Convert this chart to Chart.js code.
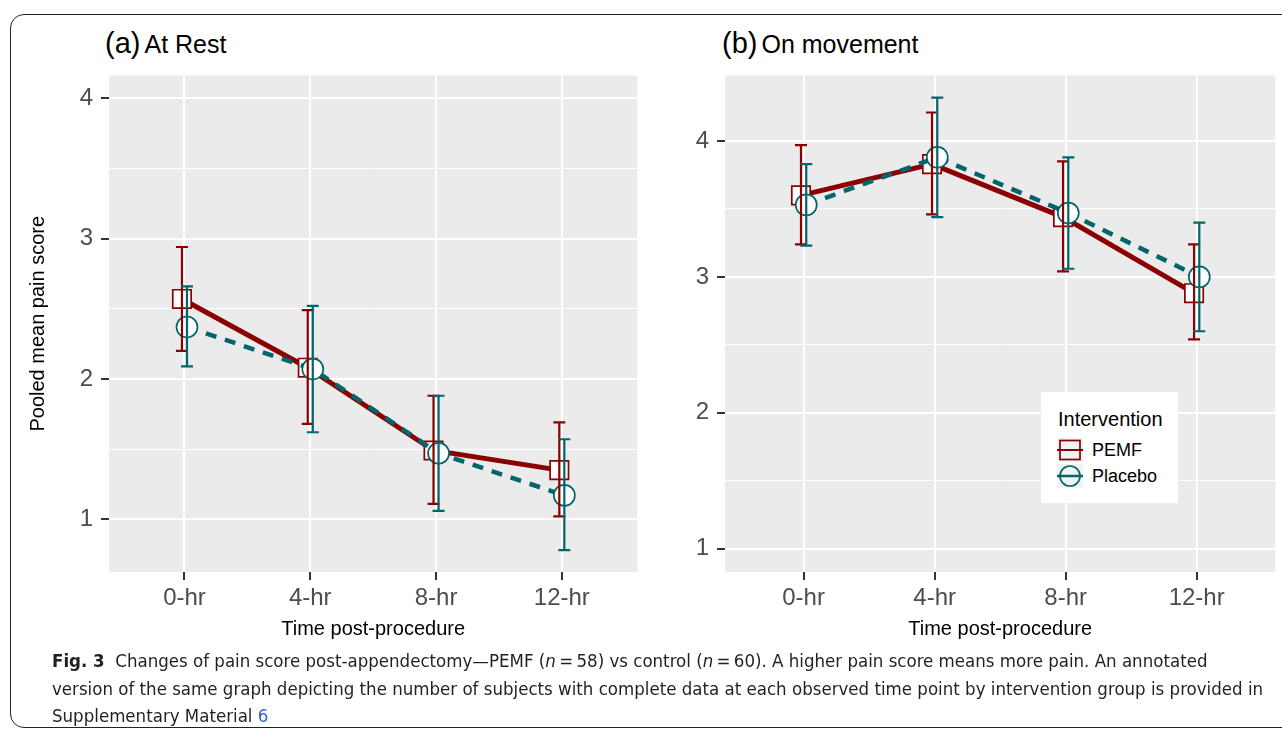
<!DOCTYPE html>
<html>
<head>
<meta charset="utf-8">
<script src="https://cdn.jsdelivr.net/npm/chart.js@4.4.0/dist/chart.umd.min.js"></script>
<style>
  html, body { margin: 0; padding: 0; background: #fff; overflow: hidden; }
  body { width: 1282px; height: 732px; position: relative; font-family: 'Liberation Sans', Arial, sans-serif; }
  #frame { position: absolute; left: 10px; top: 14px; width: 1320px; height: 714px; border: 1.3px solid #222; border-radius: 14px; box-sizing: border-box; }
  canvas { position: absolute; }
  .ptitle { position: absolute; top: 25px; white-space: nowrap; color: #000; line-height: 36px; }
  .ptitle .tag { font-size: 29px; }
  .ptitle .txt { font-size: 25px; margin-left: 4px; }
  #legend { position: absolute; left: 1041px; top: 392px; width: 137px; height: 111px; background: #fff; }
  #legend .lt { position: absolute; left: 17px; top: 15px; font-size: 20px; line-height: 24px; }
  #legend .item { position: absolute; left: 16px; height: 24px; }
  #legend .item svg { position: absolute; left: 0; top: 0; }
  #legend .item span { position: absolute; left: 35px; top: 1px; font-size: 18px; line-height: 22px; white-space: nowrap; }
  #caption { position: absolute; left: 52px; top: 647px; transform-origin: left top; color: #231f20;
             font-family: 'Liberation Sans Narrow', 'DejaVu Sans Condensed', 'Liberation Sans', sans-serif; font-size: 18px; }
  #caption .cl { white-space: nowrap; line-height: 27.5px; }
</style>
</head>
<body>
<div id="frame"></div>

<div class="ptitle" style="left:105px"><span class="tag">(a)</span><span class="txt">At Rest</span></div>
<div class="ptitle" style="left:722px"><span class="tag">(b)</span><span class="txt">On movement</span></div>

<canvas id="restChart" width="652" height="600" style="left:0px; top:53px"></canvas>
<canvas id="moveChart" width="640" height="600" style="left:650px; top:53px"></canvas>

<div id="legend">
  <div class="lt">Intervention</div>
  <div class="item" style="top:46px">
    <svg width="26" height="24"><rect x="0" y="0" width="26" height="24" fill="#f2f2f2"/><line x1="0" y1="12" x2="26" y2="12" stroke="#8b0000" stroke-width="2"/><rect x="3" y="2.5" width="20" height="19" fill="none" stroke="#8b0000" stroke-width="1.7"/></svg>
    <span>PEMF</span>
  </div>
  <div class="item" style="top:72px">
    <svg width="26" height="24"><rect x="0" y="0" width="26" height="24" fill="#f2f2f2"/><line x1="0" y1="12" x2="26" y2="12" stroke="#00666b" stroke-width="2.5"/><circle cx="13" cy="12" r="10" fill="none" stroke="#00666b" stroke-width="1.7"/></svg>
    <span>Placebo</span>
  </div>
</div>

<div id="caption">
  <div class="cl"><b>Fig. 3</b>&nbsp; Changes of pain score post-appendectomy—PEMF (<i>n</i>&#8201;=&#8201;58) vs control (<i>n</i>&#8201;=&#8201;60). A higher pain score means more pain. An annotated</div>
  <div class="cl" id="capLine2">version of the same graph depicting the number of subjects with complete data at each observed time point by intervention group is provided in</div>
  <div class="cl">Supplementary Material <span style="color:#2f5fd0">6</span></div>
</div>

<script>
// categories and tick labels
const categories = ['0-hr', '4-hr', '8-hr', '12-hr'];
const yTicks = [1, 2, 3, 4];
const yMinor = [1.5, 2.5, 3.5];

// (a) At Rest
const restPemf      = [2.57, 2.08, 1.49, 1.35];
const restPemfLo    = [2.20, 1.68, 1.11, 1.02];
const restPemfHi    = [2.94, 2.49, 1.88, 1.69];
const restPlacebo   = [2.37, 2.07, 1.47, 1.17];
const restPlaceboLo = [2.09, 1.62, 1.06, 0.78];
const restPlaceboHi = [2.66, 2.52, 1.88, 1.57];

// (b) On movement
const movePemf      = [3.60, 3.83, 3.44, 2.88];
const movePemfLo    = [3.24, 3.46, 3.04, 2.54];
const movePemfHi    = [3.97, 4.21, 3.85, 3.24];
const movePlacebo   = [3.53, 3.88, 3.47, 3.00];
const movePlaceboLo = [3.23, 3.44, 3.06, 2.60];
const movePlaceboHi = [3.83, 4.32, 3.88, 3.40];

const RED = '#8b0000';
const TEAL = '#00666b';
const DODGE = 0.02;

function pts(vals, shift) {
    return vals.map((v, i) => ({ x: i + shift, y: v }));
}

// grey panel background
const panelBg = {
    id: 'panelBg',
    beforeDraw(chart) {
        const a = chart.chartArea;
        const c = chart.ctx;
        c.save();
        c.fillStyle = '#ebebeb';
        c.fillRect(a.left, a.top, a.right - a.left, a.bottom - a.top);
        c.restore();
    }
};

// error bars drawn from dataset lo/hi through the scales
const errorBars = {
    id: 'errorBars',
    afterDatasetsDraw(chart) {
        const c = chart.ctx;
        const xs = chart.scales.x, ys = chart.scales.y;
        chart.data.datasets.forEach(ds => {
            c.save();
            c.strokeStyle = ds.borderColor;
            c.lineWidth = 2.2;
            ds.data.forEach((p, i) => {
                const x = xs.getPixelForValue(p.x);
                const y1 = ys.getPixelForValue(ds.errLo[i]);
                const y2 = ys.getPixelForValue(ds.errHi[i]);
                c.beginPath();
                c.moveTo(x, y1); c.lineTo(x, y2);
                c.moveTo(x - 6, y1); c.lineTo(x + 6, y1);
                c.moveTo(x - 6, y2); c.lineTo(x + 6, y2);
                c.stroke();
            });
            c.restore();
        });
    }
};

function isMajor(ctx) {
    return ctx.tick && yTicks.includes(ctx.tick.value);
}

function makeChart(id, opts) {
    const ctx = document.getElementById(id).getContext('2d');
    return new Chart(ctx, {
        type: 'line',
        data: {
            datasets: [
                {
                    label: 'PEMF',
                    data: pts(opts.pemf, -DODGE),
                    errLo: opts.pemfLo, errHi: opts.pemfHi,
                    borderColor: RED, borderWidth: 5,
                    pointStyle: 'rect', pointRadius: 13, pointBorderWidth: 1.7,
                    pointBackgroundColor: '#fff', pointBorderColor: RED,
                    tension: 0, order: 2
                },
                {
                    label: 'Placebo',
                    data: pts(opts.placebo, DODGE),
                    errLo: opts.placeboLo, errHi: opts.placeboHi,
                    borderColor: TEAL, borderWidth: 4.5, borderDash: [11, 9],
                    pointStyle: 'circle', pointRadius: 10.5, pointBorderWidth: 1.7,
                    pointBackgroundColor: '#fff', pointBorderColor: TEAL,
                    tension: 0, order: 1
                }
            ]
        },
        options: {
            responsive: false,
            animation: false,
            events: [],
            layout: { padding: { top: 20, right: 0, left: 0, bottom: 0 } },
            plugins: { legend: { display: false }, tooltip: { enabled: false } },
            scales: {
                x: {
                    type: 'linear',
                    min: -0.6, max: 3.6,
                    afterBuildTicks: s => { s.ticks = categories.map((c, i) => ({ value: i })); },
                    afterFit: s => { s.height = 81; },
                    ticks: {
                        autoSkip: false, maxRotation: 0, padding: 4,
                        color: '#4d4d4d',
                        font: { family: 'Liberation Sans', size: 24 },
                        callback: v => categories[v]
                    },
                    grid: { color: '#fff', lineWidth: 2, tickColor: '#333', tickLength: 8, tickWidth: 2 },
                    border: { display: false },
                    title: {
                        display: true, text: 'Time post-procedure', color: '#000',
                        font: { family: 'Liberation Sans', size: 20 },
                        padding: { top: 0, bottom: 12 }
                    }
                },
                y: {
                    type: 'linear',
                    min: opts.yMin, max: opts.yMax,
                    afterBuildTicks: s => { s.ticks = yTicks.concat(yMinor).sort((a, b) => a - b).map(v => ({ value: v })); },
                    afterFit: s => { s.width = opts.yWidth; },
                    ticks: {
                        autoSkip: false, padding: 8,
                        color: '#4d4d4d',
                        font: { family: 'Liberation Sans', size: 24 },
                        callback: v => yTicks.includes(v) ? String(v) : ''
                    },
                    grid: {
                        color: '#fff',
                        lineWidth: c => isMajor(c) ? 2 : 1,
                        tickColor: c => isMajor(c) ? '#333' : 'rgba(0,0,0,0)',
                        tickLength: 8, tickWidth: 2
                    },
                    border: { display: false },
                    title: {
                        display: opts.yTitle,
                        text: 'Pooled mean pain score', color: '#000',
                        font: { family: 'Liberation Sans', size: 20 },
                        padding: { top: 26, bottom: 0 }
                    }
                }
            }
        },
        plugins: [panelBg, errorBars]
    });
}

makeChart('restChart', {
    pemf: restPemf, pemfLo: restPemfLo, pemfHi: restPemfHi,
    placebo: restPlacebo, placeboLo: restPlaceboLo, placeboHi: restPlaceboHi,
    yMin: 0.624, yMax: 4.163, yWidth: 109, yTitle: true
});

makeChart('moveChart', {
    pemf: movePemf, pemfLo: movePemfLo, pemfHi: movePemfHi,
    placebo: movePlacebo, placeboLo: movePlaceboLo, placeboHi: movePlaceboHi,
    yMin: 0.828, yMax: 4.483, yWidth: 75, yTitle: false
});

// squeeze the caption to the width of the printed one
const cap = document.getElementById('caption');
const line2 = document.getElementById('capLine2');
const scale = 1211 / line2.scrollWidth;
cap.style.transform = 'scaleX(' + scale + ')';
</script>
</body>
</html>
